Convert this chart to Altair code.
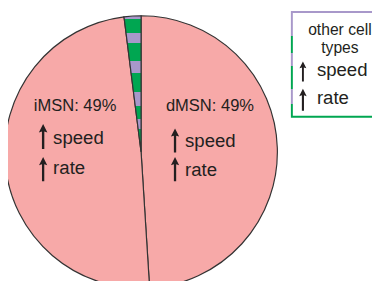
import altair as alt
import pandas as pd

# ---- data ----
cells = ["dMSN", "iMSN", "other cell types"]
shares = [49, 49, 2]
slice_labels = ["dMSN: 49%", "iMSN: 49%"]
effects = ["speed", "rate"]
legend_title = ["other cell", "types"]

# ---- style ----
PINK = "#F7A9A8"
GREEN = "#00A651"
PURPLE = "#A898CA"
INK = "#231F20"
EDGE = "#333333"
FONT = "Liberation Sans"


def stripes(bounds, first, second):
    cols = [first, second]
    stops, prev = [], 0.0
    for i, b in enumerate(bounds + [1.0]):
        c = cols[i % 2]
        stops.append({"offset": prev, "color": c})
        stops.append({"offset": b, "color": c})
        prev = b
    return {"gradient": "linear", "x1": 0, "y1": 0, "x2": 0, "y2": 1, "stops": stops}


slice_fill = stripes([0.022, 0.126, 0.2, 0.333, 0.422, 0.556, 0.659, 0.756, 0.83], PURPLE, GREEN)
box_stroke = stripes([0.233, 0.396, 0.511, 0.732, 0.876], PURPLE, GREEN)

CX, CY, R = 136, 144.2, 139.3

pie_df = pd.DataFrame({"cell": cells, "share": shares, "rank": list(range(len(cells)))})

pie = alt.Chart(pie_df).mark_arc(outerRadius=R, stroke=EDGE, strokeWidth=1.2).encode(
    theta=alt.Theta("share:Q", stack=True),
    order=alt.Order("rank:Q"),
    x=alt.value(CX),
    y=alt.value(CY),
    fill=alt.condition(alt.datum.cell == "other cell types", alt.value(slice_fill), alt.value(PINK)),
)

# layout of annotations (pixel positions)
lab_df = pd.DataFrame({"t": slice_labels, "x": [206.4, 68.6], "y": [102, 102]})
eff_df = pd.DataFrame({
    "t": effects * 3,
    "x": [46.1, 46.1, 180.9, 180.9, 315.7, 315.7],
    "y": [136, 166.8, 139.1, 168.9, 66, 94.8],
})
ttl_df = pd.DataFrame({"t": legend_title, "x": [339.2, 339.2], "y": [24.9, 43.4]})
arr_df = pd.DataFrame({
    "x": [35.9, 35.9, 170.7, 170.7, 301.4, 301.4],
    "y": [128.3, 161.7, 132.4, 161.7, 61.9, 90.7],
    "s": [660, 610, 610, 610, 424, 511],
})

pix = dict(scale=None)

labels = alt.Chart(lab_df).mark_text(font=FONT, fontSize=16.9, color=INK, align="center", baseline="alphabetic").encode(
    x=alt.X("x:Q", **pix), y=alt.Y("y:Q", **pix), text="t:N")
effs = alt.Chart(eff_df).mark_text(font=FONT, fontSize=19, color=INK, align="left", baseline="alphabetic").encode(
    x=alt.X("x:Q", **pix), y=alt.Y("y:Q", **pix), text="t:N")
ttl = alt.Chart(ttl_df).mark_text(font=FONT, fontSize=16, color=INK, align="center", baseline="alphabetic").encode(
    x=alt.X("x:Q", **pix), y=alt.Y("y:Q", **pix), text="t:N")

ARROW = "M0,-1 L0.34,-0.32 L0.095,-0.4 L0.095,1 L-0.095,1 L-0.095,-0.4 L-0.34,-0.32 Z"
arrows = alt.Chart(arr_df).mark_point(shape=ARROW, filled=True, color=INK, opacity=1, strokeWidth=0).encode(
    x=alt.X("x:Q", **pix), y=alt.Y("y:Q", **pix), size=alt.Size("s:Q", scale=None))

box = alt.Chart(pd.DataFrame({"k": [0]})).mark_rect(fill="white", stroke=box_stroke, strokeWidth=2).encode(
    x=alt.value(290.1), x2=alt.value(400), y=alt.value(1), y2=alt.value(108.2))

chart = alt.layer(pie, box, labels, effs, ttl, arrows).properties(
    width=372, height=273, autosize=alt.AutoSizeParams(type="none"), padding=0, background="white"
).configure_view(stroke=None)

chart.save("out.html", embed_options={"renderer": "svg", "actions": False})
